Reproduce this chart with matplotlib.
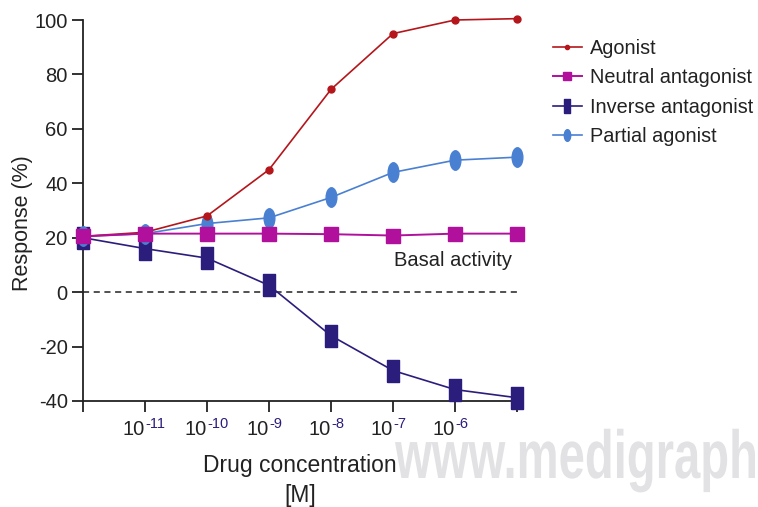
import numpy as np
import matplotlib
matplotlib.use("Agg")
import matplotlib.pyplot as plt
from matplotlib.markers import MarkerStyle
from matplotlib.transforms import Affine2D, IdentityTransform
from matplotlib.textpath import TextPath
from matplotlib.patches import PathPatch
from matplotlib.font_manager import FontProperties

plt.rcParams['font.family'] = ['Liberation Sans', 'DejaVu Sans']
plt.rcParams['axes.unicode_minus'] = False

# concentration steps: 0 = no drug, 1..6 = 1e-11..1e-6 M, 7 = highest dose
conc = [0, 1, 2, 3, 4, 5, 6, 7]
tick_exps = [-11, -10, -9, -8, -7, -6]

agonist = [20.5, 22, 28, 45, 74.5, 95, 100, 100.5]
neutral = [20.5, 21.5, 21.5, 21.5, 21.3, 20.8, 21.5, 21.5]
inverse = [20, 16, 12.5, 2.5, -16, -28.8, -35.8, -38.8]
partial = [20.5, 21.5, 25.2, 27.3, 34.8, 44, 48.5, 49.6]

red = "#b4161b"
magenta = "#b0109c"
navy = "#2b1d7c"
blue = "#4a80d2"
ink = "#222222"

fig = plt.figure(figsize=(7.58, 5.07), dpi=100)
ax = fig.add_axes([83/758, 1-401/507, (517-83)/758, (401-20)/507])

bar = MarkerStyle([(-0.5, -1), (0.5, -1), (0.5, 1), (-0.5, 1), (-0.5, -1)])
oval = MarkerStyle("o", transform=Affine2D().scale(0.55, 1))

ax.plot(conc, agonist, color=red, lw=1.2, marker="o", ms=5, label="Agonist", zorder=4, clip_on=False)
ax.plot(conc, inverse, color=navy, lw=1.2, marker=bar, ms=16, label="Inverse antagonist", zorder=3, clip_on=False)
ax.plot(conc, partial, color=blue, lw=1.2, marker=oval, ms=14, label="Partial agonist", zorder=3, clip_on=False)
ax.plot(conc, neutral, color=magenta, lw=1.4, marker="s", ms=10, label="Neutral antagonist", zorder=5, clip_on=False)
ax.axhline(0, color=ink, lw=1.1, ls=(0, (4, 3)), zorder=1)

ax.set_xlim(0, 7)
ax.set_ylim(-40, 100)
ax.set_yticks(range(-40, 101, 20))
ax.set_xticks(conc)
ax.set_xticklabels([""] * len(conc))
for i, e in zip(conc[1:7], tick_exps):
    ax.text(i, -46.8, "10", ha="right", va="top", fontsize=14.5, color=ink)
    ax.text(i + 0.01, -46.0, str(e), ha="left", va="top", fontsize=10.5, color=navy)

for s in ["top", "right"]:
    ax.spines[s].set_visible(False)
for s in ["left", "bottom"]:
    ax.spines[s].set_linewidth(1.3)
    ax.spines[s].set_color(ink)
ax.tick_params(direction="out", length=8, width=1.3, color=ink, labelsize=14.5, pad=3)
ax.tick_params(axis="y", labelcolor=ink)

ax.set_ylabel("Response (%)", fontsize=15.5, color=ink)
ax.yaxis.set_label_coords((33 - 83) / 434, (401 - 223) / 381)
ax.set_xlabel("Drug concentration\n[M]", fontsize=16.5, color=ink, labelpad=27, linespacing=1.4)
ax.text(6.92, 11.8, "Basal activity", ha="right", va="center", fontsize=14.5, color=ink)

h, l = ax.get_legend_handles_labels()
order = [0, 3, 1, 2]
leg = fig.legend([h[i] for i in order], [l[i] for i in order], loc="upper left",
                 bbox_to_anchor=(553/758, 1-39/507), frameon=False, fontsize=14.3, borderpad=0,
                 borderaxespad=0, handlelength=1.45, handletextpad=0.4, labelspacing=0.52,
                 markerscale=0.6)
for t in leg.get_texts():
    t.set_color(ink)

# condensed watermark, drawn in pixel coordinates
wm = TextPath((0, 0), "www.medigraph", size=68,
              prop=FontProperties(family="Liberation Sans", weight="bold"))
ext = wm.get_extents()
sx = 360 / ext.width
tr = Affine2D().translate(-ext.x0, 0).scale(sx, 1).translate(395, 507 - 478)
fig.patches.append(PathPatch(tr.transform_path(wm), transform=IdentityTransform(),
                             facecolor="#e2e2e5", edgecolor="none", zorder=0))

fig.savefig("out.png", dpi=100)
